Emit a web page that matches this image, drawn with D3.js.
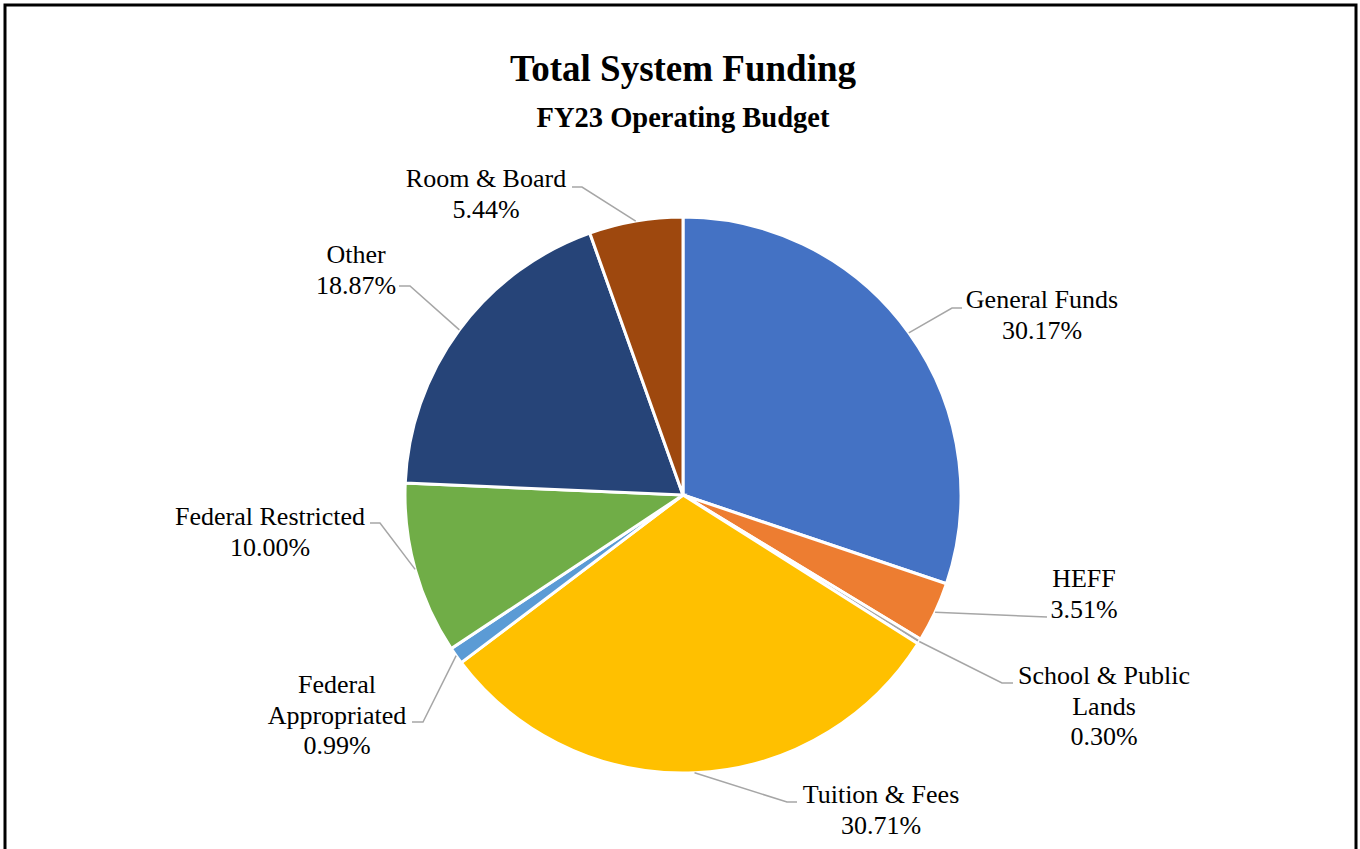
<!DOCTYPE html>
<html>
<head>
<meta charset="utf-8">
<script src="https://cdn.jsdelivr.net/npm/d3@7"></script>
<style>
  html, body { margin: 0; padding: 0; background: #fff; }
  svg { display: block; }
</style>
</head>
<body>
<svg id="chart" width="1360" height="849"></svg>
<script>
// ---- Data ----
const categories = ["General Funds", "HEFF", "School & Public Lands", "Tuition & Fees",
  "Federal Appropriated", "Federal Restricted", "Other", "Room & Board"];
const values = [30.17, 3.51, 0.30, 30.71, 0.99, 10.00, 18.87, 5.44];
const labelLines = [
  ["General Funds", "30.17%"],
  ["HEFF", "3.51%"],
  ["School & Public", "Lands", "0.30%"],
  ["Tuition & Fees", "30.71%"],
  ["Federal", "Appropriated", "0.99%"],
  ["Federal Restricted", "10.00%"],
  ["Other", "18.87%"],
  ["Room & Board", "5.44%"]
];
const colors = ["#4472C4", "#ED7D31", "#A5A5A5", "#FFC000", "#5B9BD5", "#70AD47", "#264478", "#9E480E"];
const titleText = "Total System Funding";
const subtitleText = "FY23 Operating Budget";

// ---- Layout (label placement, not data) ----
const labelLayout = [
  { cx: 1042, y0: 308, elbow: [952, 308], end: [962, 308] },
  { cx: 1084, y0: 587, elbow: null, end: [1047, 617] },
  { cx: 1104, y0: 684, elbow: [1002, 683], end: [1013, 683] },
  { cx: 881, y0: 803, elbow: [787, 802], end: [797, 802] },
  { cx: 337, y0: 693, elbow: [423, 722], end: [412, 722] },
  { cx: 270, y0: 525, elbow: [380, 523], end: [370, 523] },
  { cx: 356, y0: 263, elbow: [410, 286], end: [399, 286] },
  { cx: 486, y0: 187, elbow: [582, 187], end: [572, 187] }
];

const svg = d3.select("#chart");
const cx = 683, cy = 495, R = 278;
const lineH = 30.7;
const font = "'Liberation Serif', 'Times New Roman', serif";

// Frame
svg.append("rect")
  .attr("x", 5).attr("y", 5).attr("width", 1351).attr("height", 900)
  .attr("fill", "#fff").attr("stroke", "#000").attr("stroke-width", 3);

// Title
svg.append("text").attr("x", cx).attr("y", 81).attr("text-anchor", "middle")
  .attr("font-family", font).attr("font-weight", "bold").attr("font-size", 37)
  .attr("fill", "#000").text(titleText);
svg.append("text").attr("x", cx).attr("y", 127).attr("text-anchor", "middle")
  .attr("font-family", font).attr("font-weight", "bold").attr("font-size", 28.5)
  .attr("fill", "#000").text(subtitleText);

const data = categories.map((c, i) => ({ name: c, value: values[i], i }));
const pie = d3.pie().value(d => d.value).sort(null);
const arcs = pie(data);
const arc = d3.arc().innerRadius(0).outerRadius(R);

const g = svg.append("g").attr("transform", `translate(${cx},${cy})`);
g.selectAll("path.slice").data(arcs).join("path")
  .attr("class", "slice")
  .attr("d", arc)
  .attr("fill", d => colors[d.data.i])
  .attr("stroke", "#fff")
  .attr("stroke-width", 3)
  .attr("stroke-linejoin", "miter");

// Leader lines
arcs.forEach((a, i) => {
  const mid = (a.startAngle + a.endAngle) / 2;
  const ex = cx + R * Math.sin(mid);
  const ey = cy - R * Math.cos(mid);
  const L = labelLayout[i];
  const pts = [[ex, ey]];
  if (L.elbow) pts.push(L.elbow);
  pts.push(L.end);
  svg.append("path")
    .attr("d", d3.line()(pts))
    .attr("fill", "none")
    .attr("stroke", "#A6A6A6")
    .attr("stroke-width", 1.5);
});

// Labels
arcs.forEach((a, i) => {
  const L = labelLayout[i];
  const t = svg.append("text")
    .attr("text-anchor", "middle")
    .attr("font-family", font)
    .attr("font-size", 26)
    .attr("fill", "#000");
  labelLines[i].forEach((s, k) => {
    t.append("tspan").attr("x", L.cx).attr("y", L.y0 + k * lineH).text(s);
  });
});
</script>
</body>
</html>
